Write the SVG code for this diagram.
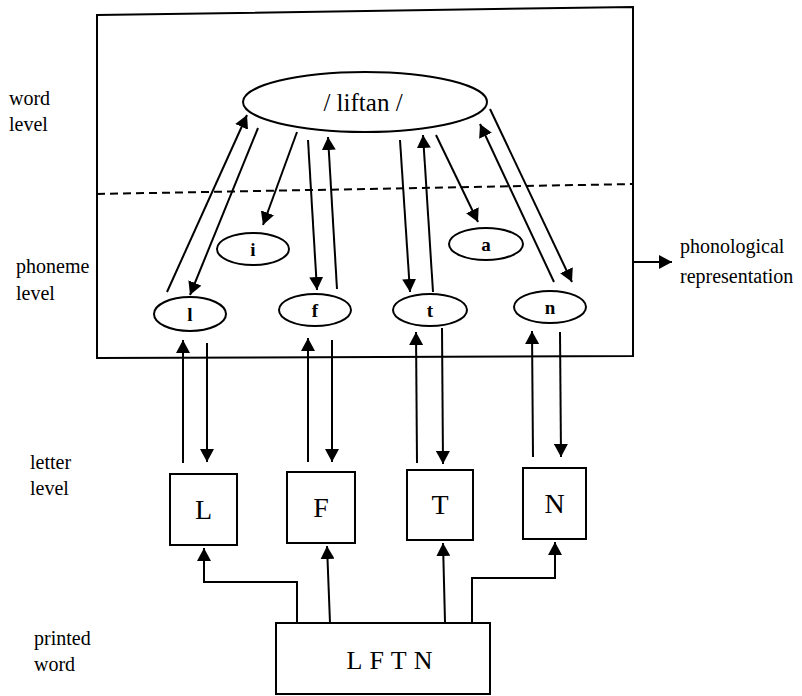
<svg xmlns="http://www.w3.org/2000/svg" width="802" height="696" viewBox="0 0 802 696">
<style>
  .ln{stroke:#000;stroke-width:2;fill:none}
  .arr{stroke:#000;stroke-width:2;fill:none;marker-end:url(#ah)}
  .nd{stroke:#000;stroke-width:2;fill:#fff}
  text{font-family:"Liberation Serif","Times New Roman",serif;fill:#000}
  .lab{font-size:20px}
  .ph{font-size:19px;font-weight:bold;text-anchor:middle}
  .let{font-size:28px;text-anchor:middle}
</style>
<defs>
  <marker id="ah" markerUnits="userSpaceOnUse" markerWidth="14" markerHeight="14" refX="13" refY="7" orient="auto">
    <path d="M0,0 L13,7 L0,14 z" fill="#000"/>
  </marker>
</defs>
<rect width="802" height="696" fill="#fff"/>

<g id="frame">
  <path class="ln" d="M97,15 L633,7 L633,356 L97,358 Z"/>
  <line class="ln" x1="97" y1="194" x2="633" y2="184" stroke-dasharray="8,5"/>
</g>

<g id="labels">
  <text class="lab" x="9" y="105">word</text>
  <text class="lab" x="9" y="131">level</text>
  <text class="lab" x="16" y="273">phoneme</text>
  <text class="lab" x="16" y="300">level</text>
  <text class="lab" x="30" y="469">letter</text>
  <text class="lab" x="30" y="495">level</text>
  <text class="lab" x="34" y="645">printed</text>
  <text class="lab" x="34" y="671">word</text>
  <text class="lab" x="680" y="253">phonological</text>
  <text class="lab" x="680" y="283">representation</text>
</g>

<g id="word">
  <ellipse class="nd" cx="365" cy="102" rx="122" ry="30"/>
  <text x="363" y="111" font-size="25" text-anchor="middle">/ liftan /</text>
</g>

<g id="ph-i"><ellipse class="nd" cx="253" cy="249" rx="36" ry="16"/><text class="ph" x="253" y="256">i</text></g>
<g id="ph-a"><ellipse class="nd" cx="486" cy="244" rx="37" ry="16"/><text class="ph" x="486" y="251">a</text></g>
<g id="ph-l"><ellipse class="nd" cx="190" cy="314" rx="36" ry="17"/><text class="ph" x="190" y="321">l</text></g>
<g id="ph-f"><ellipse class="nd" cx="315" cy="310" rx="36" ry="16"/><text class="ph" x="315" y="317">f</text></g>
<g id="ph-t"><ellipse class="nd" cx="430" cy="310" rx="37" ry="16"/><text class="ph" x="430" y="317">t</text></g>
<g id="ph-n"><ellipse class="nd" cx="550" cy="307" rx="36" ry="16"/><text class="ph" x="550" y="314">n</text></g>

<g id="let-L"><rect class="nd" x="170" y="474" width="67" height="71"/><text class="let" x="203.5" y="519">L</text></g>
<g id="let-F"><rect class="nd" x="287" y="472" width="68" height="71"/><text class="let" x="321" y="517">F</text></g>
<g id="let-T"><rect class="nd" x="407" y="470" width="66" height="70"/><text class="let" x="440" y="514">T</text></g>
<g id="let-N"><rect class="nd" x="523" y="468" width="63" height="71"/><text class="let" x="554.5" y="513">N</text></g>

<g id="printed">
  <rect class="nd" x="276" y="623" width="214" height="71"/>
  <text x="393" y="669" font-size="26" letter-spacing="7" text-anchor="middle">LFTN</text>
</g>

<g id="connectors">
  <line class="arr" x1="167" y1="292" x2="247" y2="115"/>
  <line class="arr" x1="258" y1="128" x2="190" y2="295"/>
  <line class="arr" x1="297" y1="132" x2="263" y2="225"/>
  <line class="arr" x1="308" y1="140" x2="317" y2="290"/>
  <line class="arr" x1="337" y1="289" x2="328" y2="137"/>
  <line class="arr" x1="400" y1="140" x2="410" y2="292"/>
  <line class="arr" x1="433" y1="292" x2="423" y2="135"/>
  <line class="arr" x1="436" y1="135" x2="478" y2="222"/>
  <line class="arr" x1="554" y1="282" x2="480" y2="124"/>
  <line class="arr" x1="490" y1="109" x2="572" y2="282"/>

  <line class="arr" x1="183" y1="463" x2="183" y2="340"/>
  <line class="arr" x1="207" y1="343" x2="207" y2="462"/>
  <line class="arr" x1="308" y1="462" x2="308" y2="338"/>
  <line class="arr" x1="332" y1="340" x2="332" y2="462"/>
  <line class="arr" x1="417" y1="463" x2="416" y2="332"/>
  <line class="arr" x1="442" y1="328" x2="443" y2="464"/>
  <line class="arr" x1="533" y1="457" x2="532" y2="331"/>
  <line class="arr" x1="560" y1="332" x2="561" y2="457"/>

  <polyline class="arr" points="297,623 297,582 204,582 204,548"/>
  <line class="arr" x1="330" y1="623" x2="327" y2="546"/>
  <line class="arr" x1="445" y1="622" x2="443" y2="543"/>
  <polyline class="arr" points="472,622 472,578 555,578 555,542"/>

  <line class="arr" x1="633" y1="262" x2="672" y2="262"/>
</g>
</svg>
